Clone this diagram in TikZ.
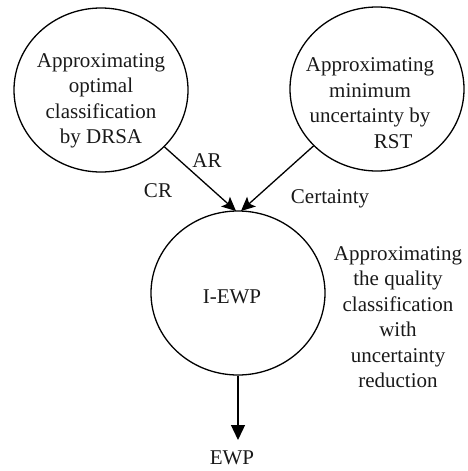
\documentclass[tikz,border=0pt]{standalone}
\usepackage{fontspec}
\setmainfont{Liberation Serif}
\usetikzlibrary{shapes.geometric,arrows.meta}
\begin{document}
\begin{tikzpicture}[x=1pt,y=-1pt,
  circ/.style={draw, line width=1.3pt, ellipse, minimum width=174pt, minimum height=164pt, inner sep=0pt},
  txt/.style={font=\fontsize{21pt}{25.5pt}\selectfont, align=center, inner sep=0pt, text=black!90},
  arr/.style={line width=1.3pt, -{Stealth[length=14pt,width=13pt,inset=3pt]}},
  arrd/.style={line width=1.3pt, -{Triangle[length=15pt,width=14pt]}}]
\useasboundingbox (0,0) rectangle (467,471);
\node[circ] (L) at (101,90) {};
\node[circ] (R) at (377,89) {};
\node[circ] (B) at (238,293) {};
\node[txt] (Lt) at (101,101) {Approximating\\optimal\\classification\\by DRSA};
\node[txt] (Rt) at (370,103) {Approximating\\minimum\\uncertainty by\\\hspace*{2.2em}RST};
\node[txt] (Bt) at (232,297) {I-EWP};
\node[txt] (St) at (398,317) {Approximating\\the quality\\classification\\with\\uncertainty\\reduction};
\node[txt] (AR) at (207,161) {AR};
\node[txt] (CR) at (158,191) {CR};
\node[txt] (Ce) at (330,199) {Certainty};
\node[txt] (E) at (232,458) {EWP};
\coordinate (tl) at (236,211);
\coordinate (tr) at (241,211);
\coordinate (td) at (238,440);
\draw[arr] (L) -- (tl);
\draw[arr] (R) -- (tr);
\draw[arrd] (B) -- (td);
\end{tikzpicture}
\end{document}
